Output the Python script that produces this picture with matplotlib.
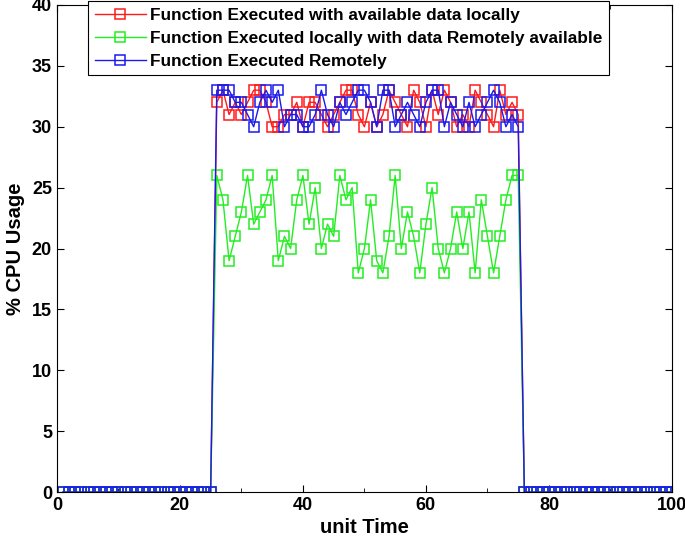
import numpy as np
import matplotlib
matplotlib.use('Agg')
import matplotlib.pyplot as plt
from matplotlib.ticker import MultipleLocator

plt.rcParams['font.family'] = ['Liberation Sans', 'DejaVu Sans']

# time steps 1..100, busy phase 26..75
time = list(range(1, 101))
idle_before = [0] * 25
idle_after = [0] * 25

local_data = [32, 33, 31, 32, 31, 32, 33, 33, 32, 30,
              30, 31, 31, 32, 30, 32, 32, 31, 30, 31,
              32, 33, 33, 31, 30, 32, 30, 31, 33, 32,
              31, 30, 33, 32, 30, 33, 31, 33, 32, 30,
              31, 30, 33, 32, 31, 30, 33, 31, 32, 31]
remote_data = [26, 24, 19, 21, 23, 26, 22, 23, 24, 26,
               19, 21, 20, 24, 26, 22, 25, 20, 22, 21,
               26, 24, 25, 18, 20, 24, 19, 18, 21, 26,
               20, 23, 21, 18, 22, 25, 20, 18, 20, 23,
               20, 23, 18, 24, 21, 18, 21, 24, 26, 26]
remote_exec = [33, 33, 33, 32, 32, 31, 30, 32, 33, 32,
               33, 30, 31, 31, 30, 30, 31, 33, 31, 30,
               32, 31, 32, 33, 33, 32, 30, 33, 33, 30,
               31, 32, 31, 30, 32, 33, 33, 30, 32, 31,
               30, 32, 30, 31, 32, 33, 32, 30, 31, 30]

labels = ['Function Executed with available data locally',
          'Function Executed locally with data Remotely available',
          'Function Executed Remotely']
colors = ['#ff1a1a', '#22ee22', '#1a1aee']

series = [idle_before + s + idle_after for s in (local_data, remote_data, remote_exec)]

fig = plt.figure(figsize=(6.85, 5.48), dpi=100)
ax = fig.add_axes([0.083, 0.102, 0.898, 0.889])

for vals, lab, col in zip(series, labels, colors):
    ax.plot(time, vals, color=col, lw=1.0, marker='s', markersize=6.5,
            markerfacecolor='none', markeredgewidth=1.1, label=lab)

ax.set_xlim(0, 100)
ax.set_ylim(0, 40)
ax.xaxis.set_major_locator(MultipleLocator(20))
ax.xaxis.set_minor_locator(MultipleLocator(10))
ax.yaxis.set_major_locator(MultipleLocator(5))
ax.tick_params(which='both', direction='in', top=True, right=True)
ax.tick_params(which='major', length=5, labelsize=13)
ax.tick_params(which='minor', length=3)
for t in ax.get_xticklabels() + ax.get_yticklabels():
    t.set_fontweight('bold')

ax.set_xlabel('unit Time', fontsize=14.5, fontweight='bold', labelpad=3)
ax.set_ylabel('% CPU Usage', fontsize=14.5, fontweight='bold', labelpad=5)

leg = ax.legend(loc='upper left', bbox_to_anchor=(0.05, 1.008), fancybox=False,
                framealpha=1, edgecolor='black', borderpad=0.4, labelspacing=0.45,
                handlelength=3.0, handletextpad=0.2, borderaxespad=0.0,
                prop={'weight': 'bold', 'size': 12.4})
leg.get_frame().set_linewidth(0.8)

fig.savefig('out.png', dpi=100)
